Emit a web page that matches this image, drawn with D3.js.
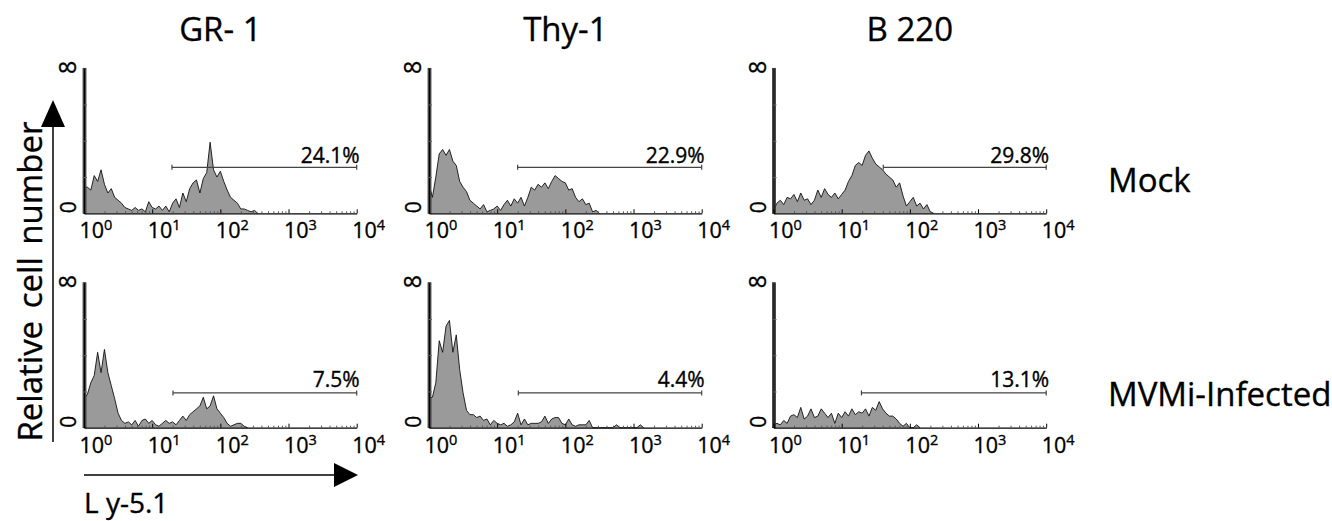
<!DOCTYPE html>
<html>
<head>
<meta charset="utf-8">
<script src="https://cdn.jsdelivr.net/npm/d3@7"></script>
<style>
  body { margin: 0; background: #fff; }
  svg { display: block; font-family: "Open Sans", sans-serif; }
  svg text { stroke: #000; stroke-width: 0.35px; fill: #000; }
</style>
</head>
<body>
<div id="chart"></div>
<script>
// column / row headings
const markers = ["GR- 1", "Thy-1", "B 220"];
const conditions = ["Mock", "MVMi-Infected"];
const xTicks = [1, 10, 100, 1000, 10000];

// gate percentages, [row][col]
const gatePct = [["24.1%", "22.9%", "29.8%"], ["7.5%", "4.4%", "13.1%"]];
// gate left edge (log10 units) and height (% of full scale)
const gateStart = [[1.29, 1.30, 1.61], [1.305, 1.31, 1.29]];
const gateLevel = [31.7, 24];

// histogram counts, % of full scale, one bin per 0.05 decade starting at 10^0
const binStep = 0.05;
const gr1Mock = [18, 18, 16, 26, 22, 30, 20, 14, 17, 11, 9, 7, 4, 3, 2, 4, 2, 3, 1, 8, 4, 3, 5, 2, 5, 1, 7, 10, 4, 14, 8,
  17, 21, 23, 14, 24, 28, 49, 30, 25, 29, 22, 16, 11, 9, 7, 3, 3, 2, 1, 2, 0];
const thy1Mock = [20, 11, 25, 41, 44, 40, 44, 36, 33, 22, 18, 15, 9, 7, 5, 3, 6, 1, 2, 3, 5, 2, 6, 9, 5, 10, 7, 11, 5, 11, 18,
  16, 20, 18, 21, 17, 22, 26, 24, 22, 21, 16, 17, 11, 8, 10, 6, 7, 1, 2, 0];
const b220Mock = [2, 7, 9, 6, 11, 10, 13, 8, 14, 9, 10, 6, 9, 16, 11, 17, 13, 11, 14, 10, 13, 16, 22, 26, 33, 35, 33, 40, 43, 38, 34,
  32, 30, 27, 25, 23, 18, 21, 12, 5, 8, 11, 5, 7, 3, 6, 1, 0];
const gr1Mvm = [20, 23, 31, 36, 52, 38, 54, 38, 29, 20, 10, 5, 3, 4, 2, 5, 1, 5, 6, 3, 5, 2, 1, 3, 5, 3, 4, 2, 5, 8, 5,
  9, 11, 13, 15, 21, 13, 15, 22, 13, 10, 7, 3, 1, 2, 3, 3, 1, 0];
const thy1Mvm = [20, 21, 31, 60, 52, 70, 74, 52, 64, 40, 24, 12, 9, 9, 7, 8, 5, 6, 2, 5, 3, 2, 3, 1, 2, 4, 10, 2, 6, 2, 3,
  3, 3, 4, 8, 3, 6, 7, 7, 3, 2, 6, 2, 1, 2, 2, 2, 5, 0, 0, 0, 0, 0, 0, 0, 2, 0, 0, 0, 0, 0, 0, 2, 0];
const b220Mvm = [2, 3, 2, 5, 3, 8, 9, 7, 14, 6, 8, 13, 7, 8, 13, 10, 7, 10, 3, 10, 7, 11, 8, 13, 9, 11, 10, 13, 8, 14, 12,
  18, 13, 10, 8, 8, 6, 3, 1, 3, 0, 0, 2, 0];
const histograms = [[gr1Mock, thy1Mock, b220Mock], [gr1Mvm, thy1Mvm, b220Mvm]];
// first-channel pile-up at the axis
const spike = [[100, 100, 100], [100, 100, 100]];

const width = 1332, height = 521;
const colX = [84, 429, 773.5], panelW = 272.7;
const rowTop = [68.3, 282.7], panelH = 145;

const svg = d3.select("#chart").append("svg")
  .attr("width", width)
  .attr("height", height);

const x = d3.scaleLog().domain([1, 1e4]).range([0, panelW]);
const y = d3.scaleLinear().domain([0, 100]).range([panelH, 0]);
const minorTicks = [];
for (let e = 0; e < 4; e++) for (let m = 2; m < 10; m++) minorTicks.push(m * Math.pow(10, e));

const area = d3.area()
  .x((d, i) => x(Math.pow(10, i * binStep)))
  .y0(panelH)
  .y1(d => y(d));
const line = d3.line()
  .x((d, i) => x(Math.pow(10, i * binStep)))
  .y(d => y(d));

conditions.forEach((cond, r) => {
  markers.forEach((mk, c) => {
    const g = svg.append("g").attr("transform", `translate(${colX[c]},${rowTop[r]})`);
    const data = histograms[r][c];

    g.append("path")
      .attr("d", area(data))
      .attr("fill", "#9a9a9a");
    g.append("path")
      .attr("d", line(data))
      .attr("fill", "none")
      .attr("stroke", "#111")
      .attr("stroke-width", 0.9);

    // spike on the axis
    g.append("rect")
      .attr("x", -1)
      .attr("y", y(spike[r][c]))
      .attr("width", 3)
      .attr("height", panelH - y(spike[r][c]))
      .attr("fill", "#666")
      .attr("stroke", "#222")
      .attr("stroke-width", 0.7);

    // gate
    const gy = y(gateLevel[r]);
    const gx0 = x(Math.pow(10, gateStart[r][c])), gx1 = x(1e4);
    g.append("line").attr("x1", gx0).attr("x2", gx1).attr("y1", gy).attr("y2", gy)
      .attr("stroke", "#444").attr("stroke-width", 1.3);
    [gx0, gx1].forEach(gx => {
      g.append("line").attr("x1", gx).attr("x2", gx).attr("y1", gy - 2.5).attr("y2", gy + 2.5)
        .attr("stroke", "#444").attr("stroke-width", 1.2);
    });
    g.append("text")
      .attr("x", gx1 + 3)
      .attr("y", gy - (r === 0 ? 4 : 5.5))
      .attr("text-anchor", "end")
      .attr("font-size", 21)
      .text(gatePct[r][c]);

    // x axis
    const xa = g.append("g")
      .attr("transform", `translate(0,${panelH})`)
      .call(d3.axisBottom(x).tickValues(xTicks).tickSize(-4).tickSizeOuter(0));
    xa.attr("font-family", null).attr("font-size", 21.5);
    xa.select(".domain").attr("stroke", "#000").attr("stroke-width", 1.2);
    xa.selectAll(".tick line").attr("stroke", "#000");
    xa.selectAll(".tick text").each(function(d) {
      const t = d3.select(this).text("")
        .attr("y", 25).attr("dy", null).attr("x", -5)
        .attr("text-anchor", "start");
      t.append("tspan").text("10");
      t.append("tspan").attr("dy", -8).attr("font-size", 14.5).text(Math.round(Math.log10(d)));
    });
    g.append("g")
      .attr("transform", `translate(0,${panelH})`)
      .call(d3.axisBottom(x).tickValues(minorTicks).tickSize(-2).tickFormat(""))
      .call(s => s.select(".domain").remove())
      .selectAll(".tick line").attr("stroke", "#555");

    // y axis
    const ya = g.append("g")
      .call(d3.axisLeft(y).tickValues([25, 50, 75]).tickSize(-3).tickSizeOuter(0).tickFormat(""));
    ya.select(".domain").attr("stroke", "#000").attr("stroke-width", 1.2);
    ya.selectAll(".tick line").attr("stroke", "#666");
    g.append("text")
      .attr("transform", `translate(-8,${y(0) - 6}) rotate(-90)`)
      .attr("text-anchor", "middle").attr("font-size", 21).text("0");
    g.append("text")
      .attr("transform", `translate(-8,${y(100) - 1}) rotate(-90)`)
      .attr("text-anchor", "middle").attr("font-size", 23).text("8");
  });
});

// column titles
markers.forEach((mk, c) => {
  svg.append("text")
    .attr("x", colX[c] + panelW / 2)
    .attr("y", 40.7)
    .attr("text-anchor", "middle")
    .attr("font-size", 33)
    .text(mk);
});

// row labels
const rowLabelY = [191.7, 406];
conditions.forEach((cond, r) => {
  svg.append("text")
    .attr("x", 1108)
    .attr("y", rowLabelY[r])
    .attr("font-size", 33)
    .text(cond);
});

// y label + arrow
svg.append("text")
  .attr("transform", "translate(42,281.5) rotate(-90)")
  .attr("text-anchor", "middle")
  .attr("font-size", 33)
  .attr("word-spacing", 4)
  .text("Relative cell number");
svg.append("line").attr("x1", 53).attr("x2", 53).attr("y1", 442).attr("y2", 125)
  .attr("stroke", "#000").attr("stroke-width", 1.5);
svg.append("polygon").attr("points", "41,127 65,127 53,100").attr("fill", "#000");

// x label + arrow
svg.append("line").attr("x1", 84).attr("x2", 336).attr("y1", 475).attr("y2", 475)
  .attr("stroke", "#000").attr("stroke-width", 1.5);
svg.append("polygon").attr("points", "334,463 334,487 358,475").attr("fill", "#000");
svg.append("text")
  .attr("x", 84)
  .attr("y", 513)
  .attr("font-size", 28)
  .text("L y-5.1");
</script>
</body>
</html>
